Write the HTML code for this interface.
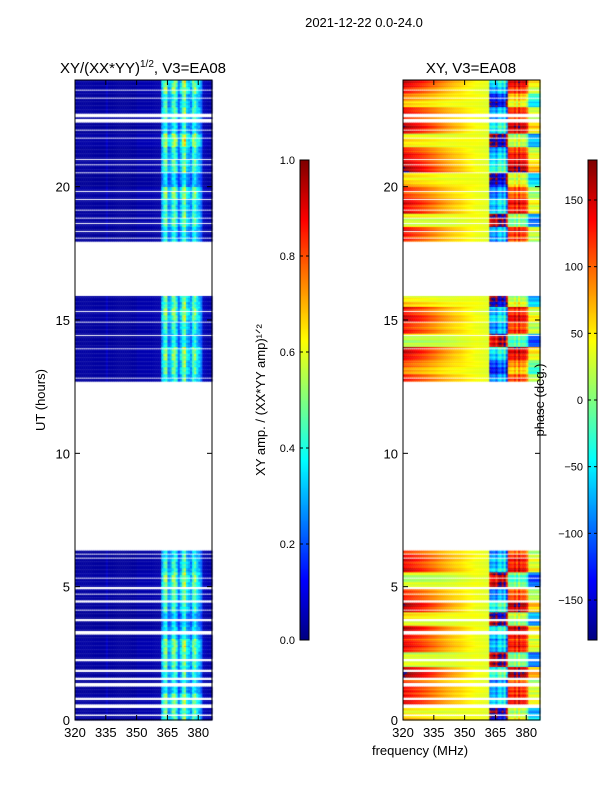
<!DOCTYPE html>
<html><head><meta charset="utf-8"><style>
body{margin:0;background:#fff;width:600px;height:800px;overflow:hidden;font-family:"Liberation Sans","DejaVu Sans",sans-serif}
#wrap{position:relative;width:600px;height:800px}
canvas{position:absolute;left:0;top:0}
svg{position:absolute;left:0;top:0}
</style></head><body>
<div id="wrap">
<canvas id="cv" width="600" height="800"></canvas>
<svg id="sv" width="600" height="800"></svg>
</div>
<script>
// ---- data ----
const freqStart = 320, freqStep = 1;
const ampProfile = [0.03,0.03,0.03,0.03,0.03,0.03,0.03,0.03,0.03,0.03,0.03,0.03,0.03,0.03,0.03,0.06,0.03,0.03,0.03,0.03,0.03,0.03,0.03,0.03,0.03,0.03,0.03,0.03,0.03,0.03,0.04,0.04,0.04,0.04,0.04,0.04,0.04,0.04,0.04,0.04,0.04,0.04,0.3,0.4,0.45,0.25,0.28,0.4,0.45,0.35,0.2,0.3,0.42,0.48,0.32,0.28,0.25,0.4,0.42,0.32,0.28,0.22,0.05,0.05,0.04,0.04,0.04];
const phaseProfile = [115,112,110,108,105,102,100,98,95,92,90,88,85,82,80,78,75,72,70,68,66,64,62,60,58,56,55,54,52,50,48,46,45,44,42,40,40,38,38,36,35,35,-110,-100,-90,-120,-80,-70,-100,-60,-130,100,95,90,110,80,120,90,100,95,70,5,5,5,5,5,5];
// per half-hour row factors (0..24h, 48 values)
const ampRow = [1.1,1.2,0.9,1.0,1.1,1.2,0.9,0.8,1.0,1.1,1.2,1.0,0.9,0.8,1.1,1.0,1.0,1.0,1.0,1.0,1.0,1.0,1.0,1.0,1.0,1.0,1.1,1.2,0.9,1.0,1.2,1.1,1.0,1.0,1.0,1.0,0.9,1.1,1.0,1.2,0.8,1.1,1.0,1.3,0.9,1.1,1.0,1.2];
const phaseRow = [-60,30,10,50,-80,20,40,-70,60,10,-90,30,0,0,0,0,0,0,0,0,0,0,0,0,0,0,-20,40,-90,20,30,-60,0,0,0,0,20,-80,30,10,-50,50,20,-70,40,10,-40,30];
const validIntervals = [[0,0.15],[0.22,0.45],[0.6,0.75],[0.85,1.25],[1.4,1.5],[1.6,1.8],[1.9,2.2],[2.3,3.2],[3.35,3.7],[3.8,4.1],[4.15,4.4],[4.5,4.7],[4.75,4.9],[5.0,5.3],[5.35,6.05],[6.1,6.2],[6.25,6.35],
[12.7,12.8],[12.85,13.9],[13.95,14.4],[14.45,14.9],[14.95,15.3],[15.35,15.9],
[17.95,18.05],[18.1,18.3],[18.35,18.6],[18.65,18.8],[18.85,19.1],[19.15,19.5],[19.55,19.8],[19.85,20.5],[20.55,20.8],[20.85,21.0],[21.05,21.8],[21.85,22.1],[22.15,22.4],[22.55,22.6],[22.75,23.3],[23.35,23.6],[23.65,24.0]];
const xTicks = [320,335,350,365,380];
const yTicks = [0,5,10,15,20];
const ampCbTicks = [0.0,0.2,0.4,0.6,0.8,1.0];
const phaseCbTicks = [-150,-100,-50,0,50,100,150];

// ---- axes ----
const panels = [{x0:75,x1:212,kind:'amp',name:'amp-panel'},{x0:403,x1:540,kind:'phase',name:'phase-panel'}];
const yTop=80,yBot=720,tMax=24;
const fMin=320,fMax=386.7;
function yS(t){return yBot-(t/tMax)*(yBot-yTop);}
function xS(p,f){return p.x0+(f-fMin)/(fMax-fMin)*(p.x1-p.x0);}
function jet(v){v=Math.max(0,Math.min(1,v));
 const r=Math.max(0,Math.min(1,1.5-Math.abs(4*v-3))),g=Math.max(0,Math.min(1,1.5-Math.abs(4*v-2))),b=Math.max(0,Math.min(1,1.5-Math.abs(4*v-1)));
 return 'rgb('+Math.round(r*255)+','+Math.round(g*255)+','+Math.round(b*255)+')';}
const ctx=document.getElementById('cv').getContext('2d');
const rowStep=0.05;
panels.forEach(p=>{
 validIntervals.forEach(iv=>{
  for(let t=iv[0];t<iv[1]-1e-9;t+=rowStep){
   const t2=Math.min(iv[1],t+rowStep);
   const ri=Math.min(47,Math.floor(t*2));
   const wig=Math.sin(t*37.1)*0.5+Math.cos(t*11.3)*0.5;
   for(let c=0;c<ampProfile.length;c++){
    const f=freqStart+c*freqStep;
    let v;
    if(p.kind==='amp'){v=ampProfile[c]*ampRow[ri]*(1+0.25*wig*Math.sin(c*1.7)*(c>41?1:0));}
    else{let ph=phaseProfile[c]+phaseRow[ri]*(c<42?Math.max(0,1-c/35):1.2)+wig*30*(c<42?Math.max(0.2,1-c/45):1);
      ph=((ph+180)%360+360)%360-180; v=(ph+180)/360;}
    ctx.fillStyle=jet(v);
    const xa=xS(p,f),xb=xS(p,Math.min(fMax,f+freqStep));
    ctx.fillRect(xa,yS(t2),xb-xa+0.5,yS(t)-yS(t2)+0.3);
   }
  }
 });
});
function cbar(x,w){for(let y=160;y<640;y++){ctx.fillStyle=jet((640-y)/480);ctx.fillRect(x,y,w,1);}}
cbar(300,9);cbar(588,9);

// ---- svg annotations ----
const NS='http://www.w3.org/2000/svg',sv=document.getElementById('sv');
function el(tag,attrs,txt){const e=document.createElementNS(NS,tag);for(const k in attrs)e.setAttribute(k,attrs[k]);if(txt!==undefined)e.textContent=txt;sv.appendChild(e);return e;}
panels.forEach(p=>{
 const fr=el('rect',{x:p.x0,y:yTop,width:p.x1-p.x0,height:yBot-yTop,fill:'none',stroke:'#000','stroke-width':1});
 
 
 xTicks.forEach(f=>{const x=xS(p,f);
  el('line',{x1:x,x2:x,y1:yBot,y2:yBot-5,stroke:'#000'});el('line',{x1:x,x2:x,y1:yTop,y2:yTop+5,stroke:'#000'});
  const t=el('text',{x:x,y:737,'font-size':13,'text-anchor':'middle'},String(f));
  
  });
 yTicks.forEach(v=>{const y=yS(v);
  el('line',{x1:p.x0,x2:p.x0+5,y1:y,y2:y,stroke:'#000'});el('line',{x1:p.x1,x2:p.x1-5,y1:y,y2:y,stroke:'#000'});
  const t=el('text',{x:p.x0-5,y:y+5,'font-size':13,'text-anchor':'end'},String(v));
  
  });
});
function cbTicks(x,ticks,lo,hi,name){
 el('rect',{x:x,y:160,width:9,height:480,fill:'none',stroke:'#000'});
 ticks.forEach(v=>{const y=640-(v-lo)/(hi-lo)*480;
  el('line',{x1:x,x2:x+3,y1:y,y2:y,stroke:'#000'});el('line',{x1:x+9,x2:x+6,y1:y,y2:y,stroke:'#000'});
  const t=el('text',{x:x-5,y:y+4,'font-size':11,'text-anchor':'end'},name==='amp'?v.toFixed(1):(v<0?'\u2212'+(-v):String(v)));
  
  });
}
cbTicks(300,ampCbTicks,0,1,'amp');cbTicks(588,phaseCbTicks,-180,180,'phase');
const T=[
 ['2021-12-22 0.0-24.0',364,27,13,'middle',0,'figure-title'],
 ['XY, V3=EA08',471,73,15,'middle',0,'phase-title'],
 ['UT (hours)',45,400,13,'middle',-90,'y-axis-title'],
 ['frequency (MHz)',420,755,13,'middle',0,'x-axis-title'],
 ['XY amp. / (XX*YY amp)\u00b9\u141f\u00b2',265,400,13,'middle',-90,'amp-colorbar-label'],
 ['phase (deg.)',544,400,13,'middle',-90,'phase-colorbar-label']];
T.forEach(a=>{const t=el('text',{x:a[1],y:a[2],'font-size':a[3],'text-anchor':a[4],transform:a[5]?'rotate('+a[5]+' '+a[1]+' '+a[2]+')':''},a[0]);
 
 });
const lt=el('text',{x:143,y:73,'font-size':15,'text-anchor':'middle'});


lt.innerHTML='XY/(XX*YY)<tspan font-size="10" dy="-6">1/2</tspan><tspan dy="6">, V3=EA08</tspan>';
</script>
</body></html>
